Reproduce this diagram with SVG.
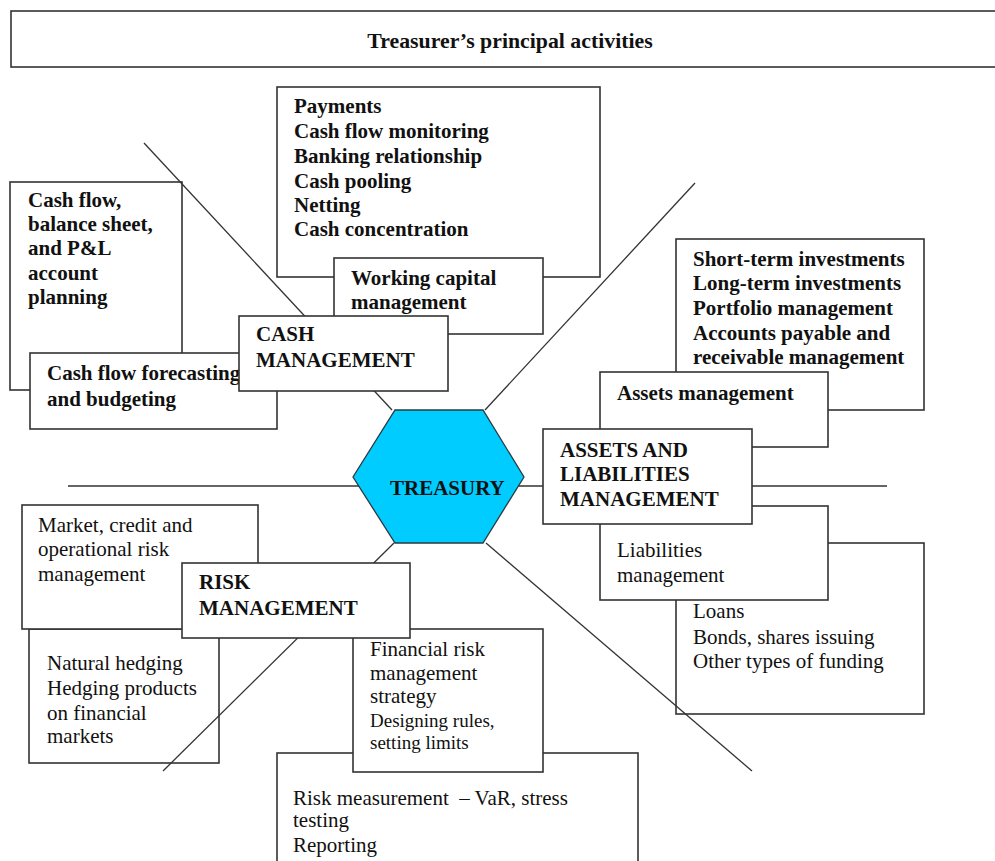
<svg xmlns="http://www.w3.org/2000/svg" width="995" height="861" viewBox="0 0 995 861">
  <style>
    .box { fill: #ffffff; stroke: #333333; stroke-width: 1.6; }
    .ln { stroke: #333333; stroke-width: 1.3; fill: none; }
    .b { font-family: "Liberation Serif", "Times New Roman", serif; font-weight: bold; font-size: 21px; fill: #111111; }
    .r { font-family: "Liberation Serif", "Times New Roman", serif; font-size: 21px; fill: #111111; }
    .s { font-family: "Liberation Serif", "Times New Roman", serif; font-size: 19px; fill: #111111; }
    .hex { fill: #00ccff; stroke: #2a3a40; stroke-width: 1.3; }
  </style>

  <rect width="995" height="861" fill="#ffffff"/>

  <!-- title bar -->
  <g id="title">
    <rect class="box" x="11" y="11" width="1000" height="56"/>
    <text class="b" x="510" y="48" text-anchor="middle" style="font-size:21.8px">Treasurer’s principal activities</text>
  </g>

  <!-- back layer of detail boxes -->
  <g id="cash-planning">
    <rect class="box" x="10" y="182" width="172" height="208"/>
    <text class="b" x="28" y="207">Cash flow,</text>
    <text class="b" x="28" y="231">balance sheet,</text>
    <text class="b" x="28" y="255">and P&amp;L</text>
    <text class="b" x="28" y="280">account</text>
    <text class="b" x="28" y="304">planning</text>
  </g>

  <g id="cash-operations">
    <rect class="box" x="277" y="87" width="323" height="190"/>
    <text class="b" x="294" y="113">Payments</text>
    <text class="b" x="294" y="138">Cash flow monitoring</text>
    <text class="b" x="294" y="163">Banking relationship</text>
    <text class="b" x="294" y="188">Cash pooling</text>
    <text class="b" x="294" y="212">Netting</text>
    <text class="b" x="294" y="236">Cash concentration</text>
  </g>

  <g id="investments">
    <rect class="box" x="676" y="239" width="248" height="171"/>
    <text class="b" x="693" y="266">Short-term investments</text>
    <text class="b" x="693" y="290">Long-term investments</text>
    <text class="b" x="693" y="315">Portfolio management</text>
    <text class="b" x="693" y="340">Accounts payable and</text>
    <text class="b" x="693" y="364">receivable management</text>
  </g>

  <g id="funding">
    <rect class="box" x="676" y="543" width="248" height="171"/>
    <text class="r" x="693" y="618">Loans</text>
    <text class="r" x="693" y="644">Bonds, shares issuing</text>
    <text class="r" x="693" y="668">Other types of funding</text>
  </g>

  <g id="hedging">
    <rect class="box" x="29" y="629" width="190" height="134"/>
    <text class="r" x="47" y="670">Natural hedging</text>
    <text class="r" x="47" y="695">Hedging products</text>
    <text class="r" x="47" y="720">on financial</text>
    <text class="r" x="47" y="743">markets</text>
  </g>

  <g id="risk-types">
    <rect class="box" x="22" y="505" width="236" height="124"/>
    <text class="r" x="38" y="532">Market, credit and</text>
    <text class="r" x="38" y="556">operational risk</text>
    <text class="r" x="38" y="581">management</text>
  </g>

  <g id="risk-measurement">
    <rect class="box" x="277" y="753" width="361" height="120"/>
    <text class="r" x="293" y="805" xml:space="preserve" style="white-space:pre">Risk measurement  – VaR, stress</text>
    <text class="r" x="293" y="827">testing</text>
    <text class="r" x="293" y="852">Reporting</text>
  </g>

  <!-- spokes radiating from the hexagon -->
  <g id="connectors">
    <line class="ln" x1="144" y1="143" x2="392" y2="410"/>
    <line class="ln" x1="695" y1="183" x2="485" y2="410"/>
    <line class="ln" x1="68" y1="486" x2="887" y2="486"/>
    <line class="ln" x1="394" y1="543" x2="163" y2="771"/>
    <line class="ln" x1="486" y1="543" x2="752" y2="771"/>
  </g>

  <!-- front layer -->
  <g id="working-capital">
    <rect class="box" x="334" y="258" width="209" height="76"/>
    <text class="b" x="351" y="285">Working capital</text>
    <text class="b" x="351" y="309">management</text>
  </g>

  <g id="cash-forecasting">
    <rect class="box" x="30" y="353" width="247" height="76"/>
    <text class="b" x="47" y="380">Cash flow forecasting</text>
    <text class="b" x="47" y="406">and budgeting</text>
  </g>

  <g id="cash-management">
    <rect class="box" x="239" y="316" width="209" height="75"/>
    <text class="b" x="256" y="341">CASH</text>
    <text class="b" x="256" y="367">MANAGEMENT</text>
  </g>

  <g id="assets-management">
    <rect class="box" x="600" y="372" width="228" height="75"/>
    <text class="b" x="617" y="400">Assets management</text>
  </g>

  <g id="liabilities-management">
    <rect class="box" x="600" y="506" width="228" height="94"/>
    <text class="r" x="617" y="557">Liabilities</text>
    <text class="r" x="617" y="582">management</text>
  </g>

  <g id="alm">
    <rect class="box" x="543" y="429" width="209" height="95"/>
    <text class="b" x="560" y="457">ASSETS AND</text>
    <text class="b" x="560" y="481">LIABILITIES</text>
    <text class="b" x="560" y="506">MANAGEMENT</text>
  </g>

  <g id="risk-strategy">
    <rect class="box" x="353" y="629" width="190" height="143"/>
    <text class="r" x="370" y="656">Financial risk</text>
    <text class="r" x="370" y="680">management</text>
    <text class="r" x="370" y="703">strategy</text>
    <text class="s" x="370" y="727">Designing rules,</text>
    <text class="s" x="370" y="749">setting limits</text>
  </g>

  <g id="risk-management">
    <rect class="box" x="182" y="563" width="228" height="75"/>
    <text class="b" x="199" y="589">RISK</text>
    <text class="b" x="199" y="615">MANAGEMENT</text>
  </g>

  <g id="treasury">
    <polygon class="hex" points="395,410 483,410 524,477 483,543 395,543 353,477"/>
    <text class="b" x="390" y="495">TREASURY</text>
  </g>
</svg>
